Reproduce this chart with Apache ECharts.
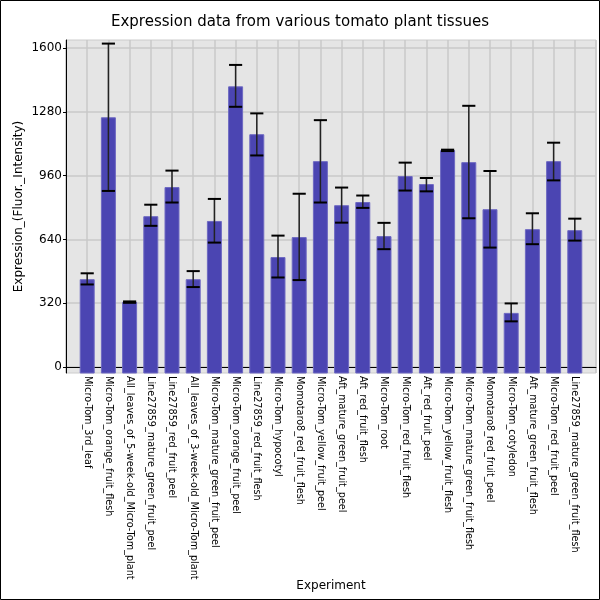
<!DOCTYPE html>
<html style="height: 100%">
<head>
<meta charset="utf-8">
</head>
<body style="height: 100%; margin: 0">
<div id="container" style="width: 600px; height: 600px"></div>
<script src="https://cdn.jsdelivr.net/npm/echarts@6/dist/echarts.min.js"></script>
<script type="text/javascript">

var experiments = [
    'Micro-Tom_3rd_leaf', 'Micro-Tom_orange_fruit_flesh', 'All_leaves_of_5-week-old_Micro-Tom_plant',
    'Line27859_mature_green_fruit_peel', 'Line27859_red_fruit_peel', 'All_leaves_of_3-week-old_Micro-Tom_plant',
    'Micro-Tom_mature_green_fruit_peel', 'Micro-Tom_orange_fruit_peel', 'Line27859_red_fruit_flesh',
    'Micro-Tom_hypocotyl', 'Momotaro8_red_fruit_flesh', 'Micro-Tom_yellow_fruit_peel',
    'Aft_mature_green_fruit_peel', 'Aft_red_fruit_flesh', 'Micro-Tom_root',
    'Micro-Tom_red_fruit_flesh', 'Aft_red_fruit_peel', 'Micro-Tom_yellow_fruit_flesh',
    'Micro-Tom_mature_green_fruit_flesh', 'Momotaro8_red_fruit_peel', 'Micro-Tom_cotyledon',
    'Aft_mature_green_fruit_flesh', 'Micro-Tom_red_fruit_peel', 'Line27859_mature_green_fruit_flesh'
];
var expression = [438, 1250, 324, 754, 900, 438, 730, 1405, 1165, 549, 649, 1030,
                  809, 825, 654, 955, 915, 1085, 1025, 789, 269, 689, 1030, 684];
var errLow  = [414, 883, 322, 708, 825, 401, 624, 1305, 1061, 449, 436, 825,
               724, 798, 591, 885, 881, 1083, 746, 599, 229, 616, 936, 634];
var errHigh = [470, 1622, 329, 814, 985, 481, 843, 1515, 1272, 659, 869, 1238,
               900, 860, 723, 1025, 948, 1090, 1310, 983, 319, 771, 1125, 744];
var yTicks = [0, 320, 640, 960, 1280, 1600];
var yMin = -30, yMax = 1640;

// one empty slot on each side, like the original
var cats = [''].concat(experiments, ['']);

var barData = [], errData = [];
for (var i = 0; i < experiments.length; i++) {
    barData.push([i + 1, expression[i]]);
    errData.push([i + 1, errLow[i], errHigh[i]]);
}

var dom = document.getElementById('container');
var myChart = echarts.init(dom);

var option = {
    backgroundColor: '#ffffff',
    animation: false,
    textStyle: { fontFamily: 'DejaVu Sans' },
    title: {
        text: 'Expression data from various tomato plant tissues',
        left: 'center',
        top: 10,
        textStyle: { fontSize: 15, fontWeight: 'normal', color: '#000', fontFamily: 'DejaVu Sans' }
    },
    graphic: [{
        type: 'rect',
        shape: { x: 0.5, y: 0.5, width: 599, height: 599 },
        style: { fill: 'none', stroke: '#000', lineWidth: 1 },
        silent: true, z: 100
    }],
    grid: {
        left: 66, right: 4, top: 40, bottom: 227,
        outerBoundsMode: 'none',
        containLabel: false,
        show: true,
        backgroundColor: '#e5e5e5',
        borderColor: '#cccccc',
        borderWidth: 1
    },
    xAxis: {
        type: 'category',
        data: cats,
        boundaryGap: false,
        name: 'Experiment',
        nameLocation: 'middle',
        nameGap: 207,
        nameMoveOverlap: false,
        nameTextStyle: { fontSize: 12, color: '#000' },
        axisLine: { lineStyle: { color: '#000', width: 1 } },
        axisTick: { show: false },
        axisLabel: {
            interval: 0, rotate: -90, fontSize: 9.7, color: '#000', margin: 3
        },
        splitLine: { show: true, interval: 0, lineStyle: { color: '#c8c8c8', width: 1.5 } }
    },
    yAxis: {
        type: 'value',
        min: yMin,
        max: yMax,
        name: 'Expression_(Fluor._Intensity)',
        nameLocation: 'middle',
        nameGap: 41,
        nameMoveOverlap: false,
        nameTextStyle: { fontSize: 12, color: '#000' },
        axisLine: { show: true, lineStyle: { color: '#000', width: 1 } },
        axisTick: { show: true, length: 3, customValues: yTicks, lineStyle: { color: '#000' } },
        axisLabel: {
            customValues: yTicks, fontSize: 12, color: '#000', margin: 4,
            formatter: function (v) { return String(v); }
        },
        splitLine: { show: true, lineStyle: { color: '#c8c8c8', width: 1.5 } }
    },
    series: [{
        type: 'custom',
        data: barData,
        renderItem: function (params, api) {
            var x = api.value(0);
            var top = api.coord([x, api.value(1)]);
            var bottom = api.coord([x, yMin]);
            var w = api.size([1, 0])[0] * 0.66;
            return {
                type: 'rect',
                shape: { x: top[0] - w / 2, y: top[1], width: w, height: bottom[1] - top[1] },
                style: { fill: '#4b45b2', stroke: '#6e69c2', lineWidth: 1 }
            };
        },
        z: 2
    }, {
        type: 'custom',
        data: errData,
        renderItem: function (params, api) {
            var x = api.value(0);
            var lo = api.coord([x, api.value(1)]);
            var hi = api.coord([x, api.value(2)]);
            var c = api.size([1, 0])[0] * 0.31;
            return {
                type: 'group',
                children: [{
                    type: 'line',
                    shape: { x1: lo[0], y1: lo[1], x2: hi[0], y2: hi[1] },
                    style: { stroke: '#222', lineWidth: 1.5 }
                }, {
                    type: 'line',
                    shape: { x1: hi[0] - c, y1: hi[1], x2: hi[0] + c, y2: hi[1] },
                    style: { stroke: '#000', lineWidth: 2 }
                }, {
                    type: 'line',
                    shape: { x1: lo[0] - c, y1: lo[1], x2: lo[0] + c, y2: lo[1] },
                    style: { stroke: '#000', lineWidth: 2 }
                }]
            };
        },
        z: 3
    }]
};

myChart.setOption(option);
</script>
</body>
</html>
